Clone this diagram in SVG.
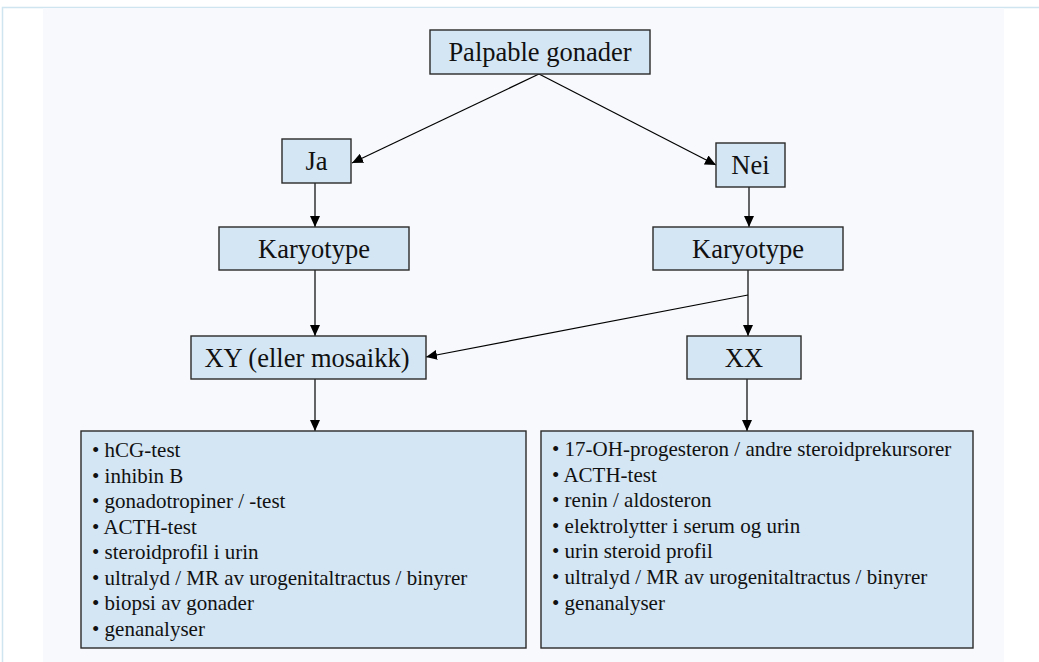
<svg xmlns="http://www.w3.org/2000/svg" width="1039" height="662" viewBox="0 0 1039 662">
<defs>
<marker id="ah" markerUnits="userSpaceOnUse" markerWidth="12" markerHeight="10" refX="11" refY="5" orient="auto">
<path d="M0,0 L11,5 L0,10 Z" fill="#000"/>
</marker>
<style>
text{font-family:'Liberation Serif','Times New Roman','DejaVu Serif',serif}
.box{fill:#d4e6f4;stroke:#2a2a2a;stroke-width:1.4}
.lbl{font-size:26.5px;fill:#111;text-anchor:middle}
.li{font-size:21px;fill:#111}
.con{stroke:#000;stroke-width:1.2;fill:none}
.arr{marker-end:url(#ah)}
</style>
</defs>
<rect x="0" y="0" width="1039" height="662" fill="#ffffff"/>
<rect x="2.5" y="7.5" width="1100" height="700" fill="none" stroke="#cfe6f0" stroke-width="1.5"/>
<rect x="43" y="8" width="961" height="654" fill="#f7f9fc"/>

<g id="connectors">
<line class="con arr" x1="539" y1="74" x2="352" y2="163"/>
<line class="con arr" x1="539" y1="74" x2="716" y2="165"/>
<line class="con arr" x1="315" y1="183" x2="315" y2="227"/>
<line class="con arr" x1="749" y1="187" x2="749" y2="227"/>
<line class="con arr" x1="315" y1="270" x2="315" y2="336"/>
<line class="con arr" x1="748" y1="270" x2="748" y2="336"/>
<line class="con arr" x1="748" y1="295" x2="426" y2="357"/>
<line class="con arr" x1="315" y1="379" x2="315" y2="431"/>
<line class="con arr" x1="747" y1="379" x2="747" y2="431"/>
</g>

<g id="palpable">
<rect class="box" x="430" y="30" width="220" height="44"/>
<text class="lbl" x="540" y="61">Palpable gonader</text>
</g>
<g id="ja">
<rect class="box" x="282" y="139" width="69" height="44"/>
<text class="lbl" x="316.5" y="170">Ja</text>
</g>
<g id="nei">
<rect class="box" x="716" y="143" width="69" height="44"/>
<text class="lbl" x="750.5" y="174">Nei</text>
</g>
<g id="karyotype-left">
<rect class="box" x="219" y="227" width="190" height="43"/>
<text class="lbl" x="314" y="257.5">Karyotype</text>
</g>
<g id="karyotype-right">
<rect class="box" x="653" y="227" width="190" height="43"/>
<text class="lbl" x="748" y="257.5">Karyotype</text>
</g>
<g id="xy">
<rect class="box" x="191" y="336" width="235" height="43"/>
<text class="lbl" x="307" y="366.5">XY (eller mosaikk)</text>
</g>
<g id="xx">
<rect class="box" x="687" y="336" width="114" height="43"/>
<text class="lbl" x="744" y="366.5">XX</text>
</g>
<g id="list-left">
<rect class="box" x="81" y="431" width="445" height="217"/>
<text class="li" x="92" y="457">• hCG-test</text>
<text class="li" x="92" y="482.5">• inhibin B</text>
<text class="li" x="92" y="508">• gonadotropiner / -test</text>
<text class="li" x="92" y="533.5">• ACTH-test</text>
<text class="li" x="92" y="559">• steroidprofil i urin</text>
<text class="li" x="92" y="584.5">• ultralyd / MR av urogenitaltractus / binyrer</text>
<text class="li" x="92" y="610">• biopsi av gonader</text>
<text class="li" x="92" y="635.5">• genanalyser</text>
</g>
<g id="list-right">
<rect class="box" x="541" y="431" width="432" height="217"/>
<text class="li" x="552" y="456">• 17-OH-progesteron / andre steroidprekursorer</text>
<text class="li" x="552" y="481.6">• ACTH-test</text>
<text class="li" x="552" y="507.2">• renin / aldosteron</text>
<text class="li" x="552" y="532.8">• elektrolytter i serum og urin</text>
<text class="li" x="552" y="558.4">• urin steroid profil</text>
<text class="li" x="552" y="584">• ultralyd / MR av urogenitaltractus / binyrer</text>
<text class="li" x="552" y="609.6">• genanalyser</text>
</g>
</svg>
